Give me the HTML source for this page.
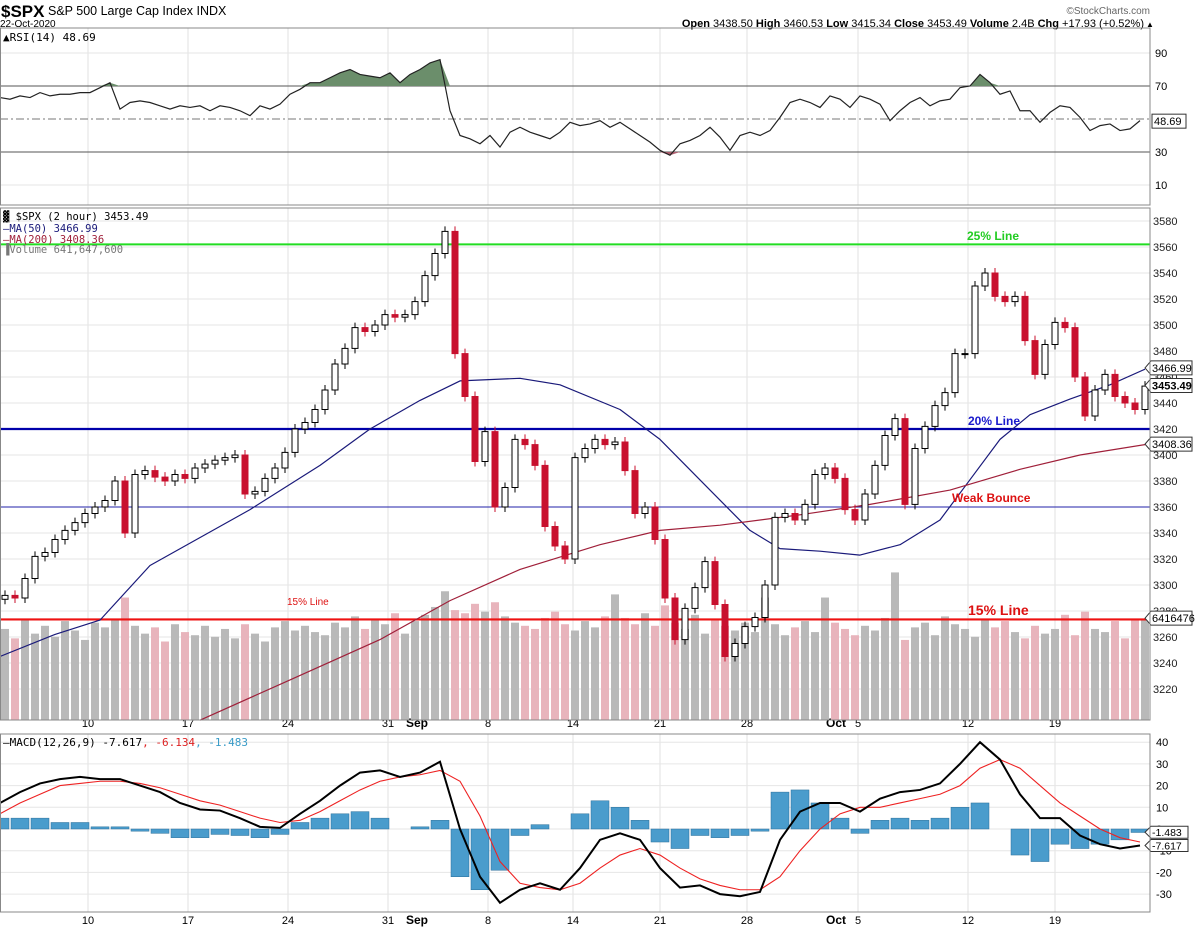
<!DOCTYPE html>
<html><head><meta charset="utf-8"><style>
html,body{margin:0;padding:0;background:#fff;}
svg{display:block;font-family:"Liberation Sans",Arial,sans-serif;}
</style></head><body>
<svg id="c" width="1196" height="929" viewBox="0 0 1196 929" xmlns="http://www.w3.org/2000/svg">
<text x="1" y="17" font-size="17" font-weight="bold">$SPX</text>
<text x="48" y="15" font-size="12.5">S&amp;P 500 Large Cap Index  INDX</text>
<text x="0" y="27" font-size="10">22-Oct-2020</text>
<text x="1150" y="14" font-size="10" fill="#666" text-anchor="end">©StockCharts.com</text>
<text x="1144" y="27" font-size="11" text-anchor="end"><tspan font-weight="bold">Open</tspan> 3438.50  <tspan font-weight="bold">High</tspan> 3460.53  <tspan font-weight="bold">Low</tspan> 3415.34  <tspan font-weight="bold">Close</tspan> 3453.49  <tspan font-weight="bold">Volume</tspan> 2.4B  <tspan font-weight="bold">Chg</tspan> +17.93 (+0.52%)</text>
<text x="1146" y="27" font-size="8">▲</text>
<g id="grid"></g>
<g id="rsi"></g>
<g id="main"></g>
<g id="macd"></g>
<g id="frames"></g>
</svg>
<script>
// ---- data ----
var closes=[3292,3290,3305,3322,3325,3335,3342,3348,3355,3360,3365,3380,3340,3385,3388,3383,3380,3385,3382,3390,3393,3396,3398,3400,3370,3372,3382,3390,3402,3420,3425,3435,3450,3470,3482,3498,3495,3500,3508,3506,3508,3518,3538,3555,3572,3478,3445,3395,3418,3360,3375,3412,3408,3392,3345,3330,3320,3398,3405,3412,3408,3410,3388,3355,3360,3335,3290,3258,3282,3298,3318,3285,3245,3255,3268,3275,3300,3352,3355,3350,3362,3385,3390,3382,3358,3350,3370,3392,3415,3428,3362,3405,3422,3438,3448,3478,3478,3530,3540,3522,3518,3522,3488,3462,3485,3502,3498,3460,3430,3450,3462,3445,3440,3435,3453];
var volumes=[5.8,5.2,6.4,5.5,6.0,5.3,6.3,5.7,5.1,6.2,5.9,6.4,7.8,6.0,5.5,5.9,5.0,6.1,5.6,5.4,6.0,5.3,5.8,5.2,6.1,5.5,5.0,5.9,6.3,5.7,6.0,5.6,5.4,6.2,5.9,6.6,5.8,6.4,6.1,6.8,5.5,6.3,6.7,7.2,8.2,7.0,6.8,7.4,6.9,7.5,6.6,6.2,6.0,5.8,6.5,6.9,6.1,5.7,6.3,5.9,6.6,8.0,6.5,6.1,6.8,6.0,7.3,6.2,5.8,6.7,5.5,6.4,6.0,5.7,6.2,5.6,7.8,6.1,5.4,5.9,6.3,5.6,7.8,6.2,5.8,5.4,6.0,5.7,6.5,9.4,5.1,5.9,6.2,5.4,6.6,6.1,5.8,5.3,6.4,5.9,6.3,5.6,5.2,6.0,5.5,5.8,6.7,5.4,6.9,5.8,5.6,6.3,5.2,6.4,6.4];
var ma50Idx=[-0.5,5,9.5,14.5,24.5,31.5,36.5,41.5,45.5,51.5,55.5,61.5,65.5,70.5,74.5,77.5,81.5,85.5,89.5,93.5,96.5,99.5,102.5,106.5,110.5,114];
var ma50=[3245,3262,3273,3315,3358,3392,3420,3442,3457,3459,3454,3435,3412,3373,3342,3328,3326,3323,3331,3350,3381,3412,3431,3443,3454,3466];
var ma200Idx=[19.5,28.5,37.5,44.5,51.5,59.5,65.5,71.5,79.5,86.5,94.5,101.5,107.5,114];
var ma200=[3196,3227,3258,3288,3312,3331,3342,3346,3354,3362,3373,3389,3400,3408];
var rsi=[63,62,64,63,66,64,65,65,66,66,69,72,56,60,61,60,58,56,58,57,58,55,58,57,55,52,58,56,59,65,68,72,72,75,78,80,77,76,75,78,72,77,80,84,86,55,40,38,35,40,33,42,45,42,40,38,42,48,46,47,49,45,48,44,40,36,31,28,35,37,40,45,39,31,40,42,40,43,51,60,62,60,57,64,62,57,64,62,59,49,55,60,63,58,61,62,69,70,77,72,65,67,55,55,48,54,58,57,51,43,46,47,43,44,49];
var macdLine=[12,17,21,23,24,23,23,20,17,12,9,8.5,5,1,0.5,7,13,20,26,27,24,26,31,0,-22,-34,-28,-25,-28,-18,-5,-2,-5,-18,-27,-26,-30,-31,-29,-5,8,12,12,8,14,17,18,21,30,40,32,16,5,5,-3,-7,-9,-7.6];
var signalLine=[7,12,16,20,21,22,22,21,19,16,13,11,8,5,3,4,8,13,18,22,24,25,27,22,6,-15,-25,-27,-28,-25,-18,-12,-9,-12,-18,-23,-26,-28,-28,-22,-10,0,7,10,10,12,14,16,20,28,32,28,20,12,6,0,-4,-6];
var priceTicks=[3220,3240,3260,3280,3300,3320,3340,3360,3380,3400,3420,3440,3460,3480,3500,3520,3540,3560,3580];
var rsiTicks=[10,30,50,70,90];
var macdTicks=[-30,-20,-10,0,10,20,30,40];
var dateLabels=["10","17","24","31","Sep","8","14","21","28","Oct","5","12","19"];
var dateIdx=[8.3,18.3,28.3,38.3,40.3,48.3,56.8,65.5,74.2,82.3,85.3,96.3,105];
var dateBold=[0,0,0,0,1,0,0,0,0,1,0,0,0];

// ---- scales ----
var R=1150;
function X(i){return 5+10*i;}
function PY(v){return 429+(3420-v)*1.3;}
function VY(v){return 720-v*15.7;}
function RY(v){return 119-(v-50)*1.65;}
function MY(v){return 829-v*2.17;}
function MX(i){return 20*i;}
var NS="http://www.w3.org/2000/svg";
function el(t,a,p){var e=document.createElementNS(NS,t);for(var k in a)e.setAttribute(k,a[k]);document.getElementById(p).appendChild(e);return e;}
function txt(s,a,p){var e=el("text",a,p);e.textContent=s;return e;}

// ---- gridlines ----
for(var i=0;i<dateIdx.length;i++){
  if(dateLabels[i]==="Sep"||dateLabels[i]==="Oct")continue;
  var gx=X(dateIdx[i]);
  [[28,205],[208,720],[734,912]].forEach(function(r){
    var g=el("line",{x1:gx,x2:gx,y1:r[0],y2:r[1],stroke:"#e2e2e2"},"grid");
    
    
  });
  [727,924].forEach(function(yy){
    var t=txt(dateLabels[i],{x:gx,y:yy,"font-size":11,"text-anchor":"middle"},"grid");
    
    
  });
}
for(var i=0;i<dateIdx.length;i++){
  if(!dateBold[i])continue;
  [727,924].forEach(function(yy){
    var t=txt(dateLabels[i],{x:X(dateIdx[i])-2,y:yy,"font-size":12,"font-weight":"bold","text-anchor":"start"},"grid");
    
    
  });
}
priceTicks.forEach(function(v){
  var g=el("line",{x1:0,x2:R,y1:PY(v),y2:PY(v),stroke:"#e6e6e6"},"grid");
  
  
  var t=txt(v,{x:1153,y:PY(v)+4,"font-size":11,fill:"#222"},"grid");
  
  
});
rsiTicks.forEach(function(v){
  var g=el("line",{x1:0,x2:R,y1:RY(v),y2:RY(v),stroke:(v==30||v==70)?"#555":"#e6e6e6"},"grid");
  if(v==50){g.setAttribute("stroke","#777");g.setAttribute("stroke-dasharray","8,3,2,3");}
  
  
  if(v!=50){var t=txt(v,{x:1155,y:RY(v)+4,"font-size":11},"grid");
  
  }
});
macdTicks.forEach(function(v){
  var g=el("line",{x1:0,x2:R,y1:MY(v),y2:MY(v),stroke:"#e6e6e6"},"grid");
  
  
  var t=txt(v,{x:1156,y:MY(v)+4,"font-size":11},"grid");
  
  
});

// ---- RSI ----
var rp=rsi.map(function(v,i){return [10*i,RY(v)];});
var rLo=RY(70),rHi=RY(30);
var fa="M0,"+rLo+" "+rp.map(function(p){return "L"+p[0]+","+Math.min(p[1],rLo);}).join(" ")+" L"+rp[rp.length-1][0]+","+rLo+"Z";
var f1=el("path",{d:fa,fill:"#6b8e6b"},"rsi");


var fb="M0,"+rHi+" "+rp.map(function(p){return "L"+p[0]+","+Math.max(p[1],rHi);}).join(" ")+" L"+rp[rp.length-1][0]+","+rHi+"Z";
var f2=el("path",{d:fb,fill:"#b06070"},"rsi");


var rl=el("polyline",{points:rp.map(function(p){return p.join(",");}).join(" "),fill:"none",stroke:"#222","stroke-width":1.2},"rsi");


var rt=txt("▲RSI(14) 48.69",{x:3,y:41,"font-size":11,"font-family":"DejaVu Sans Mono, monospace"},"rsi");


var rtag=el("rect",{x:1152,y:RY(48.69)-7,width:34,height:14,fill:"#fff",stroke:"#333"},"rsi");


var rtt=txt("48.69",{x:1154,y:RY(48.69)+4,"font-size":11},"rsi");



// ---- volume ----
for(var i=0;i<volumes.length&&i<closes.length;i++){
  var dn=i>0&&closes[i]<closes[i-1];
  var b=el("rect",{x:X(i)-4,y:VY(volumes[i]),width:8,height:720-VY(volumes[i]),fill:dn?"#e8b4bc":"#b9b9b9"},"main");
  
  
}
// ---- horizontal lines ----
function hline(v,c,w,name){var l=el("line",{x1:0,x2:R,y1:PY(v),y2:PY(v),stroke:c,"stroke-width":w},"main");}
hline(3562,"#22dd22",2,"line-25pct");
hline(3420,"#0000aa",2.2,"line-20pct");
hline(3360,"#2222aa",1,"line-weak-bounce");
hline(3273.5,"#ee1111",2.2,"line-15pct");
// ---- MAs ----
var m50=el("polyline",{points:ma50.map(function(v,i){return X(ma50Idx[i])+","+PY(v);}).join(" "),fill:"none",stroke:"#1a1a7a","stroke-width":1.2,"stroke-linejoin":"round"},"main");


var m200=el("polyline",{points:ma200.map(function(v,i){return X(ma200Idx[i])+","+PY(v);}).join(" "),fill:"none",stroke:"#a0203a","stroke-width":1.2},"main");


// ---- candles ----
for(var i=0;i<closes.length;i++){
  var op=i>0?closes[i-1]:closes[i]-3, cl=closes[i];
  var isUp=cl>=op, cx=X(i);
  var bTop=PY(Math.max(op,cl)), bBot=PY(Math.min(op,cl));
  var w=el("line",{x1:cx,x2:cx,y1:bTop-5,y2:bBot+5,stroke:isUp?"#000":"#c8102e"},"main");
  
  
  var r=el("rect",{x:cx-3,y:bTop,width:6,height:Math.max(1,bBot-bTop),fill:isUp?"#fff":"#c8102e",stroke:isUp?"#000":"#c8102e","stroke-width":1},"main");
  
  
}
// annotations
function ann(s,x,y,c,fs,name){var t=txt(s,{x:x,y:y,fill:c,"font-size":fs,"font-weight":"bold"},"main");}
ann("25% Line",967,240,"#22cc22",12,"label-25pct");
ann("20% Line",968,425,"#1a1acc",12,"label-20pct");
ann("Weak Bounce",952,502,"#dd1111",12,"label-weak-bounce");
ann("15% Line",968,615,"#dd1111",14,"label-15pct");
var sm=txt("15% Line",{x:287,y:605,fill:"#dd1111","font-size":10},"main");


// legends
var lg=[["\u2593 $SPX (2 hour) 3453.49","#000",220],["\u2014MA(50) 3466.99","#1a1a7a",232],["\u2014MA(200) 3408.36","#a0203a",243],["\u2590Volume 641,647,600","#777",253]];
lg.forEach(function(l){var t=txt(l[0],{x:3,y:l[2],fill:l[1],"font-size":10.5,"font-family":"DejaVu Sans Mono, monospace"},"main");});
// right tags
function tag(s,v,bold,name){var y=PY(v);var p=el("path",{d:"M1145,"+y+" L1151,"+(y-7)+" L1192,"+(y-7)+" L1192,"+(y+7)+" L1151,"+(y+7)+"Z",fill:"#fff",stroke:"#333"},"main");var t=txt(s,{x:1152,y:y+4,"font-size":11,"font-weight":bold?"bold":"normal"},"main");}
tag("3466.99",3466.99,0,"ma50-tag");
tag("3453.49",3453.49,1,"price-tag");
tag("3408.36",3408.36,0,"ma200-tag");
tag("6416476",3274.5,0,"volume-tag");

// ---- MACD ----
for(var i=0;i<macdLine.length&&i<signalLine.length;i++){
  var h=macdLine[i]-signalLine[i];
  var y0=MY(0),y1=MY(h);
  var hb=el("rect",{x:MX(i)-9,y:Math.min(y0,y1),width:18,height:Math.abs(y1-y0),fill:"#4a9ccc",stroke:"#2a6f99","stroke-width":0.5},"macd");
  
  
}
var sl=el("polyline",{points:signalLine.map(function(v,i){return MX(i)+","+MY(v);}).join(" "),fill:"none",stroke:"#ee2222","stroke-width":1.1},"macd");


var ml=el("polyline",{points:macdLine.map(function(v,i){return MX(i)+","+MY(v);}).join(" "),fill:"none",stroke:"#000","stroke-width":2},"macd");


var mt=el("text",{x:3,y:746,"font-size":11,"font-family":"DejaVu Sans Mono, monospace"},"macd");
mt.innerHTML='<tspan>\u2014MACD(12,26,9) -7.617</tspan><tspan fill="#dd2222">, -6.134</tspan><tspan fill="#3a9cc8">, -1.483</tspan>';


[["-1.483",-1.483],["-7.617",-7.617]].forEach(function(a){var y=MY(a[1]);var p=el("path",{d:"M1145,"+y+" L1151,"+(y-6)+" L1188,"+(y-6)+" L1188,"+(y+6)+" L1151,"+(y+6)+"Z",fill:"#fff",stroke:"#333"},"macd");var t=txt(a[0],{x:1152,y:y+4,"font-size":10.5},"macd");});

// ---- frames ----
[[28,205],[208,720],[734,912]].forEach(function(r){
  var f=el("rect",{x:0.5,y:r[0],width:R-0.5,height:r[1]-r[0],fill:"none",stroke:"#888"},"frames");
  
  
});
</script>
</body></html>
